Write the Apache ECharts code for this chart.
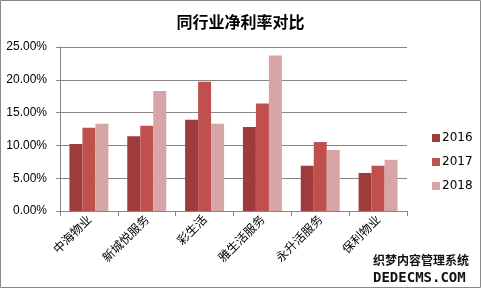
<!DOCTYPE html>
<html><head><meta charset="utf-8">
<script src="https://cdn.jsdelivr.net/npm/echarts@6/dist/echarts.min.js"></script>
<style>html,body{margin:0;padding:0;background:#fff}#c{width:481px;height:289px}</style>
</head><body><div id="c"></div>
<script>
const categories = ['中海物业','新城悦服务','彩生活','雅生活服务','永升活服务','保利物业'];
const seriesNames = ['2016','2017','2018'];
const v2016 = [10.2, 11.4, 13.9, 12.8, 6.9, 5.8];
const v2017 = [12.7, 13.0, 19.7, 16.4, 10.5, 6.9];
const v2018 = [13.3, 18.3, 13.3, 23.7, 9.3, 7.8];
const yTicks = [0, 5, 10, 15, 20, 25];
const colors = ['#9E3C3D', '#C0504D', '#D8A5A6'];
const font = '"Noto Sans CJK SC", "DejaVu Sans", sans-serif';

const chart = echarts.init(document.getElementById('c'), null, {renderer:'canvas'});
const values = [v2016, v2017, v2018];
chart.setOption({
  animation: false,
  backgroundColor: '#fff',
  title: {text: '同行业净利率对比', left: 'center', top: 9,
    textStyle: {fontSize: 16, fontWeight: 'bold', color: '#000', fontFamily: font}},
  legend: {orient: 'vertical', left: 427, top: 127, itemWidth: 8, itemHeight: 8, itemGap: 12,
    icon: 'rect', data: seriesNames,
    textStyle: {fontSize: 12, color: '#000', fontFamily: 'DejaVu Sans, sans-serif', padding: [0,0,0,-3]}},
  grid: {left: 60, right: 74, top: 47, bottom: 78},
  xAxis: {type: 'category', data: categories,
    axisLine: {lineStyle: {color: '#868686'}},
    axisTick: {show: true, length: 5, lineStyle: {color: '#868686'}},
    axisLabel: {rotate: 45, fontSize: 12, color: '#000', fontFamily: font, margin: 6, interval: 0}},
  yAxis: {type: 'value', min: yTicks[0], max: yTicks[yTicks.length-1], interval: 5,
    axisLine: {show: true, lineStyle: {color: '#868686'}},
    axisTick: {show: true, length: 4, lineStyle: {color: '#868686'}},
    splitLine: {lineStyle: {color: '#868686'}},
    axisLabel: {fontSize: 12, color: '#000', fontFamily: '"Liberation Sans", Arial, sans-serif', margin: 13,
      formatter: v => v.toFixed(2) + '%'}},
  series: seriesNames.map((n, i) => ({
    name: n, type: 'bar', data: values[i], barWidth: 13, barGap: '0%',
    itemStyle: {color: colors[i]}
  })),
  graphic: [
    {type: 'rect', shape: {x: 0.5, y: 0.5, width: 480, height: 287}, style: {fill: 'none', stroke: '#8a8a8a', lineWidth: 1}, z: 100},
    {type: 'text', left: 372, top: 253, style: {text: '织梦内容管理系统', fontSize: 12, fontWeight: 'bold', fill: '#111', stroke: '#fff', lineWidth: 2, fontFamily: font}, z: 101},
    {type: 'text', left: 372, top: 270, style: {text: 'DEDECMS.COM', fontSize: 14, fontWeight: 'bold', fill: '#111', stroke: '#fff', lineWidth: 2, fontFamily: 'DejaVu Sans Mono, monospace'}, z: 101}
  ]
});
</script>
</body></html>
